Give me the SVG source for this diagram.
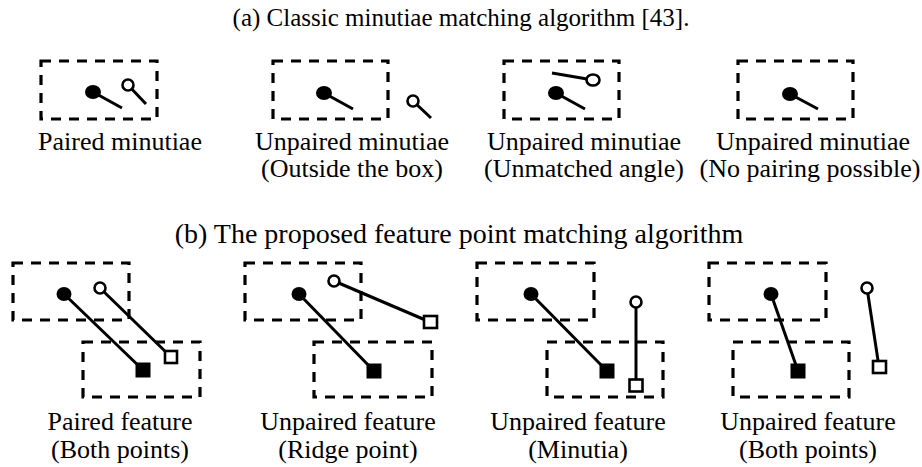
<svg xmlns="http://www.w3.org/2000/svg" width="922" height="467" viewBox="0 0 922 467">
<style>
  .box{fill:none;stroke:#000;stroke-width:3.2;stroke-dasharray:10 8}
  .ln{stroke:#000;stroke-width:3;fill:none}
  .dot{fill:#000}
  .oc{fill:#fff;stroke:#000;stroke-width:2.6}
  .fs{fill:#000}
  .os{fill:#fff;stroke:#000;stroke-width:2.6}
  text{font-family:"Liberation Serif","Times New Roman",serif;font-size:26px;fill:#000;text-anchor:middle}
  .title{font-size:25px}
  .titleb{font-size:28px}
</style>
<rect width="922" height="467" fill="#fff"/>
<text class="title" x="461" y="26">(a) Classic minutiae matching algorithm [43].</text>
<text class="titleb" x="459" y="243">(b) The proposed feature point matching algorithm</text>

<g id="a1">
  <rect class="box" x="41" y="61" width="116" height="58"/>
  <line class="ln" x1="93" y1="92" x2="122" y2="108"/>
  <ellipse class="dot" cx="93" cy="92" rx="8" ry="7"/>
  <line class="ln" x1="128" y1="85" x2="146" y2="104"/>
  <circle class="oc" cx="128" cy="85" r="5.5"/>
  <text x="120" y="150">Paired minutiae</text>
</g>
<g id="a2">
  <rect class="box" x="273" y="61" width="115" height="58"/>
  <line class="ln" x1="324" y1="93" x2="353" y2="109"/>
  <ellipse class="dot" cx="324" cy="93" rx="8" ry="7"/>
  <line class="ln" x1="413" y1="101" x2="431" y2="118"/>
  <circle class="oc" cx="413" cy="101" r="5.5"/>
  <text x="352" y="150">Unpaired minutiae</text>
  <text x="352" y="177">(Outside the box)</text>
</g>
<g id="a3">
  <rect class="box" x="504" y="61" width="115" height="58"/>
  <line class="ln" x1="556" y1="93" x2="585" y2="109"/>
  <ellipse class="dot" cx="556" cy="93" rx="8" ry="7"/>
  <line class="ln" x1="552" y1="73" x2="593" y2="80"/>
  <ellipse class="oc" cx="593" cy="80" rx="6.5" ry="5.5"/>
  <text x="584" y="150">Unpaired minutiae</text>
  <text x="584" y="177">(Unmatched angle)</text>
</g>
<g id="a4">
  <rect class="box" x="738" y="61" width="115" height="58"/>
  <line class="ln" x1="790" y1="94" x2="818" y2="109"/>
  <ellipse class="dot" cx="790" cy="94" rx="8" ry="7"/>
  <text x="813" y="150">Unpaired minutiae</text>
  <text x="810" y="177">(No pairing possible)</text>
</g>

<g id="b1">
  <rect class="box" x="13" y="263" width="116" height="57"/>
  <rect class="box" x="83" y="342" width="117" height="55"/>
  <line class="ln" x1="64" y1="294" x2="143" y2="370"/>
  <ellipse class="dot" cx="64" cy="294" rx="7.5" ry="7"/>
  <rect class="fs" x="135.5" y="362.5" width="15" height="15"/>
  <line class="ln" x1="100" y1="288" x2="171" y2="357"/>
  <circle class="oc" cx="100" cy="288" r="5.5"/>
  <rect class="os" x="165" y="351" width="12" height="12"/>
  <text x="120" y="430">Paired feature</text>
  <text x="120" y="458">(Both points)</text>
</g>
<g id="b2">
  <rect class="box" x="245" y="263" width="116" height="57"/>
  <rect class="box" x="314" y="342" width="118" height="55"/>
  <line class="ln" x1="299" y1="294" x2="374" y2="371"/>
  <ellipse class="dot" cx="299" cy="294" rx="7.5" ry="7"/>
  <rect class="fs" x="366.5" y="363.5" width="15" height="15"/>
  <line class="ln" x1="334" y1="281" x2="430" y2="322"/>
  <circle class="oc" cx="334" cy="281" r="5.5"/>
  <rect class="os" x="424" y="316" width="13" height="12"/>
  <text x="348" y="430">Unpaired feature</text>
  <text x="348" y="458">(Ridge point)</text>
</g>
<g id="b3">
  <rect class="box" x="477" y="263" width="117" height="57"/>
  <rect class="box" x="547" y="342" width="116" height="55"/>
  <line class="ln" x1="531" y1="294" x2="607" y2="371"/>
  <ellipse class="dot" cx="531" cy="294" rx="7.5" ry="7"/>
  <rect class="fs" x="599.5" y="363.5" width="15" height="15"/>
  <line class="ln" x1="636" y1="302" x2="636" y2="385"/>
  <circle class="oc" cx="636" cy="302" r="5.5"/>
  <rect class="os" x="629.5" y="379.5" width="13" height="12"/>
  <text x="578" y="430">Unpaired feature</text>
  <text x="578" y="458">(Minutia)</text>
</g>
<g id="b4">
  <rect class="box" x="709" y="263" width="117" height="57"/>
  <rect class="box" x="733" y="342" width="116" height="55"/>
  <line class="ln" x1="771" y1="294" x2="798" y2="371"/>
  <ellipse class="dot" cx="771" cy="294" rx="7.5" ry="7"/>
  <rect class="fs" x="790.5" y="363.5" width="15" height="15"/>
  <line class="ln" x1="867" y1="288" x2="879" y2="367"/>
  <circle class="oc" cx="867" cy="288" r="5.5"/>
  <rect class="os" x="873" y="361" width="13" height="12"/>
  <text x="808" y="430">Unpaired feature</text>
  <text x="808" y="458">(Both points)</text>
</g>
</svg>
